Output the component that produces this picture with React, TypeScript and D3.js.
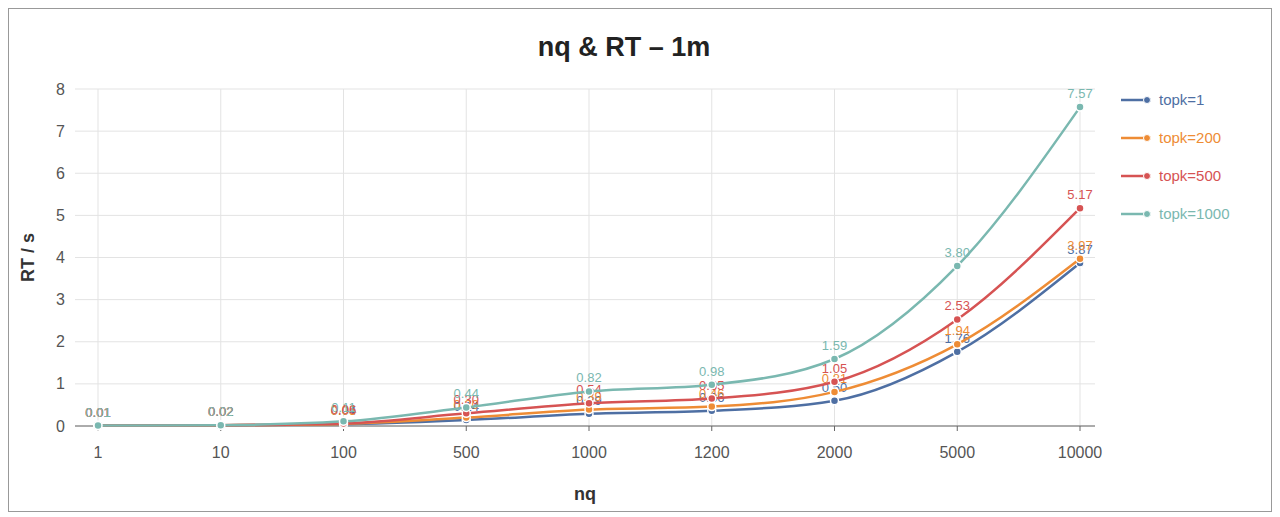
import * as d3 from "d3";

const categories = ["1", "10", "100", "500", "1000", "1200", "2000", "5000", "10000"];
const seriesNames = ["topk=1", "topk=200", "topk=500", "topk=1000"];
const topk1 = [0.01, 0.02, 0.04, 0.14, 0.29, 0.36, 0.6, 1.76, 3.87];
const topk200 = [0.01, 0.02, 0.05, 0.2, 0.39, 0.46, 0.81, 1.94, 3.97];
const topk500 = [0.01, 0.02, 0.06, 0.3, 0.54, 0.65, 1.05, 2.53, 5.17];
const topk1000 = [0.01, 0.02, 0.11, 0.44, 0.82, 0.98, 1.59, 3.8, 7.57];
const yTicks = [0, 1, 2, 3, 4, 5, 6, 7, 8];
const colors = ["#4e6fa3", "#ee8c35", "#d65353", "#7ab8b0"];

export default function App() {
  const W = 1264, H = 504;
  const allSeries = [topk1, topk200, topk500, topk1000];
  const left = 67, right = 1087, top = 81, bottom = 418;
  const x = d3.scalePoint<string>().domain(categories).range([90, 1072]).padding(0);
  const y = d3.scaleLinear().domain([0, 8]).range([bottom, top]);
  const line = d3
    .line<number>()
    .x((_, i) => x(categories[i])!)
    .y((d) => y(d))
    .curve(d3.curveMonotoneX);
  const font = "Helvetica, Arial, 'Liberation Sans', sans-serif";
  return (
    <svg width={W} height={H} style={{ display: "block", fontFamily: font }}>
      <rect x={0.5} y={0.5} width={W - 1} height={H - 1} fill="#fff" stroke="#999" />
      <text x={W / 2 - 16} y={48} textAnchor="middle" fontSize={27} fontWeight="bold" fill="#222">
        nq &amp; RT – 1m
      </text>
      {yTicks.map((t) => (
        <g key={t}>
          <line x1={left} x2={right} y1={y(t)} y2={y(t)} stroke="#e3e3e3" />
          <text x={left - 10} y={y(t)} dy="0.35em" textAnchor="end" fontSize={16} fill="#555">
            {t}
          </text>
        </g>
      ))}
      {categories.map((c) => (
        <g key={c}>
          <line x1={x(c)} x2={x(c)} y1={top} y2={bottom} stroke="#e3e3e3" />
          <line x1={x(c)} x2={x(c)} y1={bottom} y2={bottom + 5} stroke="#666" />
          <text x={x(c)} y={bottom + 32} textAnchor="middle" fontSize={16} fill="#555">
            {c}
          </text>
        </g>
      ))}
      <line x1={left} x2={right} y1={bottom} y2={bottom} stroke="#666" />
      <text x={(left + right) / 2} y={492} textAnchor="middle" fontSize={18} fontWeight="bold" fill="#333">
        nq
      </text>
      <text
        transform={`translate(26,${(top + bottom) / 2}) rotate(-90)`}
        textAnchor="middle"
        fontSize={18}
        fontWeight="bold"
        fill="#333"
      >
        RT / s
      </text>
      {allSeries.map((s, si) => (
        <g key={si}>
          <path d={line(s)!} fill="none" stroke={colors[si]} strokeWidth={2.5} />
          {s.map((v, i) => (
            <g key={i}>
              <circle cx={x(categories[i])} cy={y(v)} r={4} fill={colors[si]} stroke="#fff" strokeWidth={1.5} />
              <text x={x(categories[i])} y={y(v) - 9} textAnchor="middle" fontSize={13} fill={colors[si]}>
                {v.toFixed(2)}
              </text>
            </g>
          ))}
        </g>
      ))}
      {seriesNames.map((n, i) => (
        <g key={n} transform={`translate(1113,${92 + i * 38})`}>
          <line x1={0} x2={30} y1={0} y2={0} stroke={colors[i]} strokeWidth={2.5} />
          <circle cx={26} cy={0} r={3.5} fill={colors[i]} stroke="#fff" />
          <text x={38} y={0} dy="0.35em" fontSize={15} fill={colors[i]}>
            {n}
          </text>
        </g>
      ))}
    </svg>
  );
}
